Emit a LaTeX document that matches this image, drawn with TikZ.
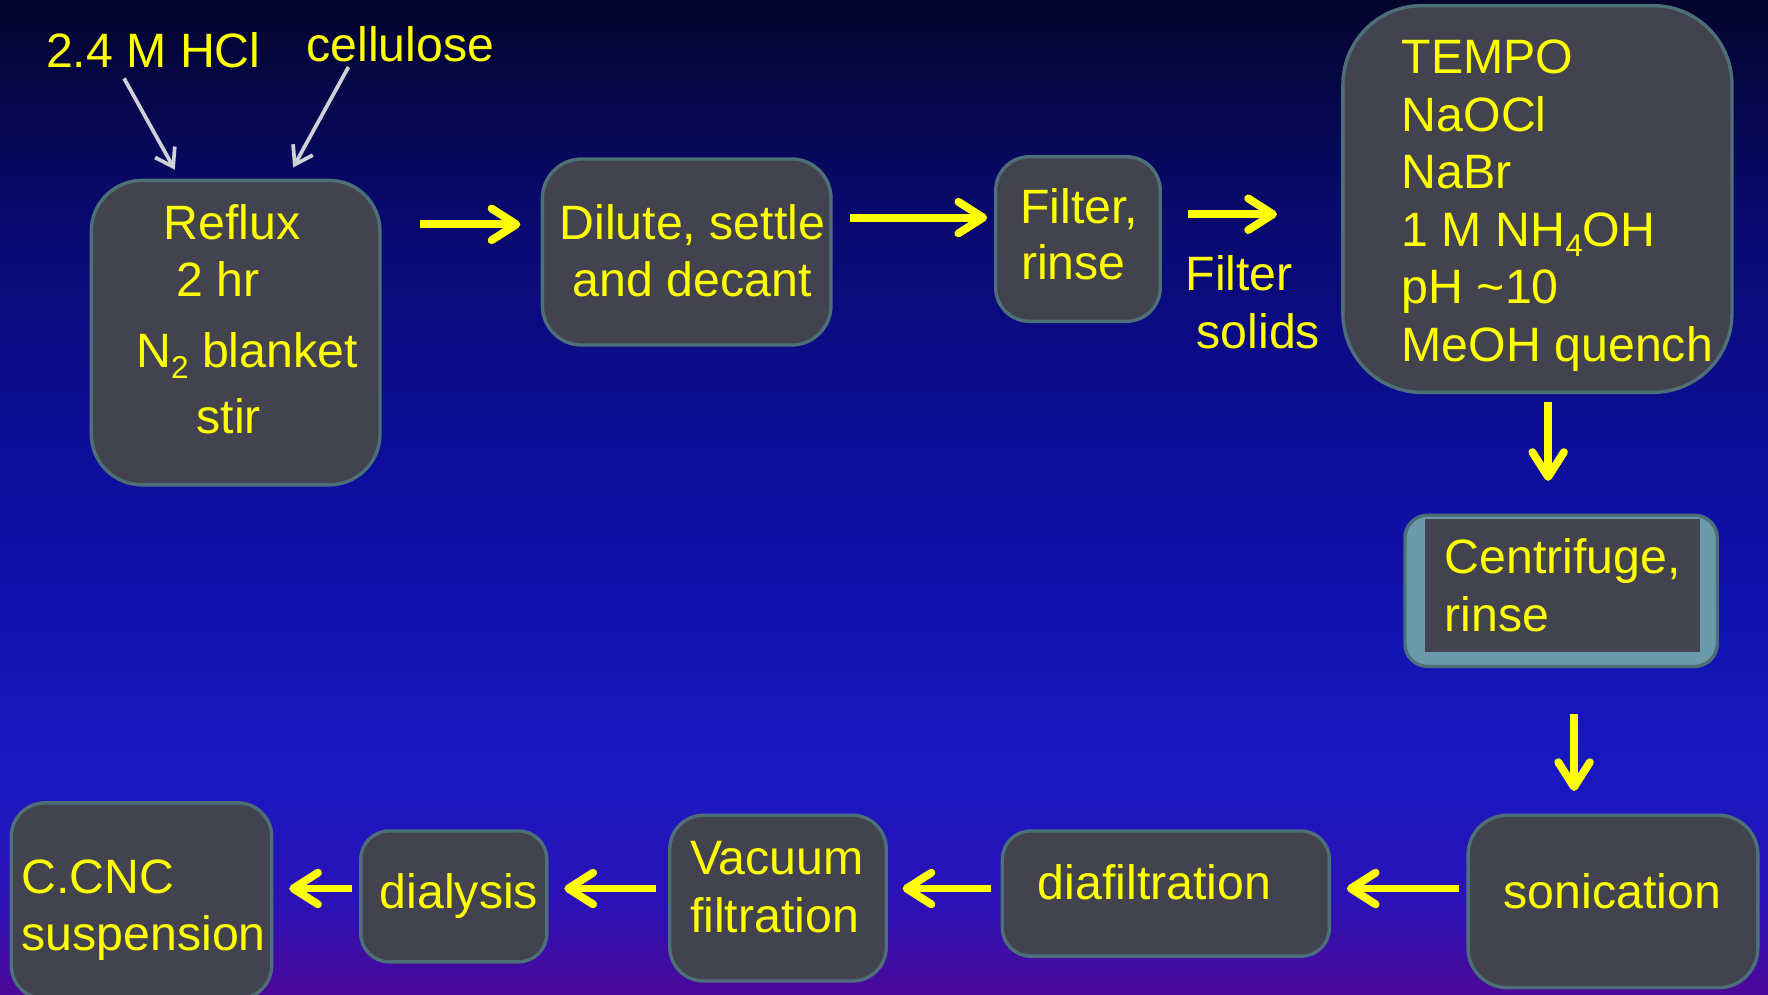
\documentclass[tikz,border=0pt]{standalone}
\usepackage{fontspec}
\setmainfont{Liberation Sans}
\usetikzlibrary{arrows.meta,calc}
\definecolor{boxfill}{HTML}{43434F}
\definecolor{boxline}{HTML}{4D7078}
\definecolor{txt}{HTML}{FFFF00}
\definecolor{grayarrow}{HTML}{D0D0D8}
\definecolor{cenfill}{HTML}{6B9BAA}
\definecolor{bgA}{HTML}{04042C}
\definecolor{bgB}{HTML}{09096C}
\definecolor{bgC}{HTML}{0E0E9E}
\definecolor{bgD}{HTML}{1818C2}
\definecolor{bgE}{HTML}{2C12B6}
\definecolor{bgF}{HTML}{4C0898}
\tikzset{
  box/.style={draw=boxline, line width=3pt, fill=boxfill, inner sep=0pt, rectangle, rounded corners=#1},
  tx/.style={text=txt, inner sep=0pt, font=\fontsize{42.8}{50}\selectfont, text height=30.6pt, text depth=0pt},
  yarrow/.style={draw=txt, line width=7pt, -{Straight Barb[length=22pt,width=28pt,round]}},
  garrow/.style={draw=grayarrow, line width=3.3pt, -{Straight Barb[length=15pt,width=20pt]}},
}
\begin{document}
\begin{tikzpicture}[x=1pt,y=-1pt]
\useasboundingbox (0,0) rectangle (1568,882);
% background
\shade[top color=bgA, bottom color=bgB] (0,0) rectangle (1568,181);
\shade[top color=bgB, bottom color=bgC] (0,180) rectangle (1568,421);
\shade[top color=bgC, bottom color=bgD] (0,420) rectangle (1568,681);
\shade[top color=bgD, bottom color=bgE] (0,680) rectangle (1568,801);
\shade[top color=bgE, bottom color=bgF] (0,800) rectangle (1568,882);

% boxes
\node[box=45pt, minimum width=256pt, minimum height=270pt] (reflux) at (209,295) {};
\node[box=35pt, minimum width=256pt, minimum height=165pt] (dilute) at (609,223.5) {};
\node[box=30pt, minimum width=146pt, minimum height=146pt] (filt) at (956,212) {};
\node[box=70pt, minimum width=345pt, minimum height=343pt] (tempo) at (1363.5,176.5) {};
\node[box=20pt, fill=cenfill, minimum width=277pt, minimum height=134pt] (centri) at (1384.5,524) {};
\node[fill=boxfill, inner sep=0pt, minimum width=244pt, minimum height=118pt] (centriin) at (1386,519) {};
\node[box=35pt, minimum width=257pt, minimum height=153pt] (sonic) at (1430.5,799.5) {};
\node[box=25pt, minimum width=290pt, minimum height=111pt] (diaf) at (1034,792.5) {};
\node[box=30pt, minimum width=192pt, minimum height=147pt] (vac) at (690,796.5) {};
\node[box=25pt, minimum width=165pt, minimum height=116pt] (dial) at (402.5,795) {};
\node[box=30pt, minimum width=231pt, minimum height=174pt] (ccnc) at (125.5,799) {};

% texts
\node[tx] (hcl) at (136,45) {2.4 M HCl};
\node[tx] (cell) at (355,39) {cellulose};
\node[tx] (r1) at (206,197) {Reflux};
\node[tx] (r2) at (193,248) {2 hr};
\node[tx] (r3) at (219,311) {N\raisebox{-9pt}{\fontsize{28}{28}\selectfont 2} blanket};
\node[tx] (r4) at (203,369) {stir};
\node[tx] (d1) at (614,197) {Dilute, settle};
\node[tx] (d2) at (614,248) {and decant};
\node[tx] (f1) at (957,183) {Filter,};
\node[tx] (f2) at (952,233) {rinse};
\node[tx] (s1) at (1099,242) {Filter};
\node[tx] (s2) at (1116,294) {solids};
\node[tx, anchor=west] (t1) at (1243,50) {TEMPO};
\node[tx, anchor=west] (t2) at (1243,101) {NaOCl};
\node[tx, anchor=west] (t3) at (1243,152) {NaBr};
\node[tx, anchor=west] (t4) at (1243,203) {1 M NH\raisebox{-9pt}{\fontsize{28}{28}\selectfont 4}OH};
\node[tx, anchor=west] (t5) at (1243,254) {pH \textasciitilde10};
\node[tx, anchor=west] (t6) at (1243,305) {MeOH quench};
\node[tx, anchor=west] (c1) at (1281,493) {Centrifuge,};
\node[tx, anchor=west] (c2) at (1281,545) {rinse};
\node[tx] (so) at (1430,790) {sonication};
\node[tx] (di) at (1024,782) {diafiltration};
\node[tx] (v1) at (689,760) {Vacuum};
\node[tx] (v2) at (687,812) {filtration};
\node[tx] (dl) at (407,790) {dialysis};
\node[tx, anchor=west] (n1) at (19,777) {C.CNC};
\node[tx, anchor=west] (n2) at (19,828) {suspension};

% connectors
\draw[garrow] ($(hcl.south)+(-26,9)$) -- ($(reflux.north)+(-54,-8)$);
\draw[garrow] ($(cell.south)+(-46,5)$) -- ($(reflux.north)+(51,-10)$);
\draw[yarrow, shorten <=34pt, shorten >=18pt] (reflux.east |- 0,199) -- (dilute.west |- 0,199);
\draw[yarrow, shorten <=15pt, shorten >=6pt] (dilute.east |- 0,193) -- (filt.west |- 0,193);
\draw[yarrow, shorten <=23pt, shorten >=57pt] (filt.east |- 0,190) -- (tempo.west |- 0,190);
\draw[yarrow, shorten <=7pt, shorten >=29pt] (tempo.south -| 1373,0) -- (centri.north -| 1373,0);
\draw[yarrow, shorten <=41pt, shorten >=20pt] (centri.south -| 1396,0) -- (sonic.north -| 1396,0);
\draw[yarrow, shorten <=7pt, shorten >=14pt] (sonic.west |- 0,788) -- (diaf.east |- 0,788);
\draw[yarrow, shorten <=9pt, shorten >=13pt] (diaf.west |- 0,788) -- (vac.east |- 0,788);
\draw[yarrow, shorten <=11pt, shorten >=14pt] (vac.west |- 0,788) -- (dial.east |- 0,788);
\draw[yarrow, shorten <=6pt, shorten >=14pt] (dial.west |- 0,788) -- (ccnc.east |- 0,788);
\end{tikzpicture}
\end{document}
